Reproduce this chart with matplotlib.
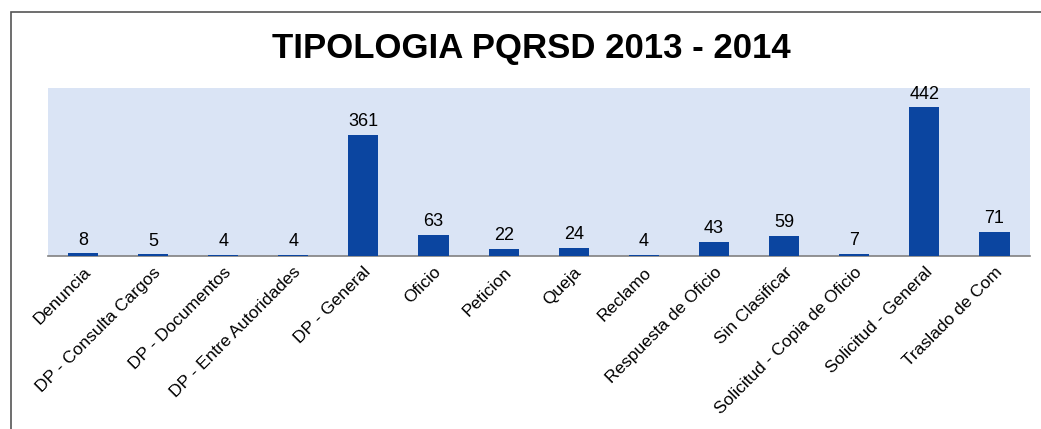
import matplotlib.pyplot as plt
from matplotlib.patches import Rectangle

categorias = ["Denuncia", "DP - Consulta Cargos", "DP - Documentos", "DP - Entre Autoridades",
              "DP - General", "Oficio", "Peticion", "Queja", "Reclamo", "Respuesta de Oficio",
              "Sin Clasificar", "Solicitud - Copia de Oficio", "Solicitud - General", "Traslado de Com"]
valores = [8, 5, 4, 4, 361, 63, 22, 24, 4, 43, 59, 7, 442, 71]
titulo = "TIPOLOGIA PQRSD 2013 - 2014"

plt.rcParams['font.family'] = ['Liberation Sans', 'DejaVu Sans']

fig = plt.figure(figsize=(10.41, 4.29), dpi=100)
fig.patch.set_facecolor("white")
ax = fig.add_axes([0.046, 0.403, 0.943, 0.392])
ax.set_facecolor("#dae4f5")

x = list(range(len(categorias)))
bars = ax.bar(x, valores, width=0.43, color="#0b45a0", zorder=3)
for b, v in zip(bars, valores):
    ax.annotate(str(v), (b.get_x() + b.get_width() / 2, v), xytext=(0, 3.5),
                textcoords="offset points", ha="center", va="bottom", fontsize=13)

ax.set_xlim(-0.5, len(categorias) - 0.5)
ax.set_ylim(0, 500)
ax.set_yticks([])
ax.set_xticks(x)
ax.set_xticklabels(categorias, rotation=45, ha="right", rotation_mode="anchor", fontsize=12.5)
ax.tick_params(axis="x", length=0, pad=6)
for s in ["top", "left", "right"]:
    ax.spines[s].set_visible(False)
ax.spines["bottom"].set_color("#808080")
ax.spines["bottom"].set_linewidth(1.2)

fig.text(0.510, 0.888, titulo, ha="center", va="center", fontsize=25, fontweight="bold")

# marco de la figura
fig.patches.append(Rectangle((11 / 1041, -0.1), 1.2, 1 - 12 / 429 + 0.1, transform=fig.transFigure,
                             fill=False, edgecolor="#555555", linewidth=1.2))

fig.savefig("out.png", dpi=100)
